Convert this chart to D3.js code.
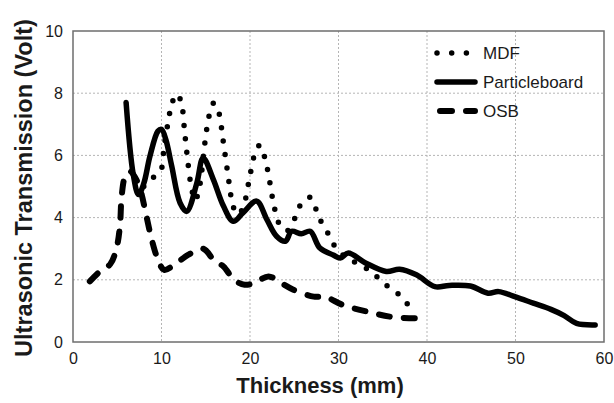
<!DOCTYPE html>
<html>
<head>
<meta charset="utf-8">
<script src="https://cdn.jsdelivr.net/npm/d3@7"></script>
<style>
  body { margin: 0; background: #fff; }
  text { font-family: "Liberation Sans", Arial, sans-serif; fill: #1a1a1a; }
</style>
</head>
<body>
<div id="chart"></div>
<script>
// series data (thickness in mm, transmission in volts)
var mdfX = [8.0, 9.1, 9.9, 10.3, 10.8, 11.2, 11.8, 12.3, 12.6, 12.9, 13.3, 13.8, 14.3, 14.9, 15.4, 15.9, 16.5, 16.9, 17.3, 17.7, 18.1, 18.7, 19.3, 19.9, 20.5, 21.1, 21.7, 22.2, 22.7, 23.3, 24.2, 25.1, 25.7, 26.8, 27.5, 28.1, 28.9, 29.6, 30.5, 32.0, 33.4, 34.6, 35.7, 37.0, 38.0];
var mdfY = [5.0, 5.3, 5.5, 6.3, 7.15, 7.7, 7.97, 7.6, 6.8, 6.0, 5.1, 4.55, 5.0, 6.4, 7.3, 7.68, 7.35, 6.6, 5.8, 5.0, 4.35, 4.1, 4.4, 5.2, 6.0, 6.33, 5.9, 5.2, 4.4, 3.8, 3.58, 4.0, 4.4, 4.65, 4.24, 3.83, 3.45, 3.07, 2.8, 2.54, 2.32, 2.03, 1.76, 1.49, 1.14];

var pbX = [6.0, 6.8, 7.4, 8.0, 8.7, 9.6, 10.0, 10.5, 11.15, 12.1, 12.85, 14.0, 14.7, 15.85, 17.0, 18.1, 19.2, 20.75, 21.9, 23.0, 24.0, 24.7, 25.8, 26.8, 27.9, 29.4, 30.2, 31.1, 33.0, 35.4, 36.9, 38.8, 40.9, 42.5, 44.9, 46.9, 48.1, 50.0, 52.0, 54.0, 55.5, 56.9, 59.0];
var pbY = [7.7, 5.4, 4.74, 5.1, 5.98, 6.78, 6.84, 6.5, 5.66, 4.47, 4.2, 5.12, 5.92, 5.23, 4.37, 3.88, 4.15, 4.53, 3.94, 3.4, 3.24, 3.56, 3.48, 3.56, 3.02, 2.8, 2.7, 2.86, 2.55, 2.27, 2.34, 2.16, 1.78, 1.82, 1.8, 1.57, 1.62, 1.45, 1.25, 1.05, 0.85, 0.6, 0.55];

var osbX = [1.9, 3.05, 4.2, 4.9, 5.3, 5.5, 5.9, 6.45, 7.0, 7.6, 8.3, 8.9, 9.6, 10.3, 11.7, 13.0, 14.7, 16.0, 17.0, 18.2, 19.4, 20.5, 22.1, 23.5, 24.9, 27.2, 28.5, 30.5, 33.2, 36.2, 40.0];
var osbY = [1.95, 2.27, 2.5, 3.0, 3.72, 4.69, 5.33, 5.49, 5.3, 4.9, 4.04, 3.29, 2.65, 2.32, 2.54, 2.8, 3.0, 2.6, 2.43, 2.0, 1.84, 1.9, 2.11, 1.9, 1.68, 1.46, 1.45, 1.19, 0.98, 0.8, 0.76];

var seriesNames = ["MDF", "Particleboard", "OSB"];
var xTicks = [0, 10, 20, 30, 40, 50, 60];
var yTicks = [0, 2, 4, 6, 8, 10];

var W = 614, H = 403;
var margin = {top: 31, right: 10, bottom: 61, left: 73};
var width = 604 - margin.left;
var height = 342 - margin.top;

var svg = d3.select("#chart").append("svg")
    .attr("width", W)
    .attr("height", H);

var g = svg.append("g")
    .attr("transform", "translate(" + margin.left + "," + margin.top + ")");

var x = d3.scaleLinear().domain([0, 60]).range([0, width]);
var y = d3.scaleLinear().domain([0, 10]).range([height, 0]);

// grid
g.append("g").selectAll("line")
    .data(xTicks.slice(1, -1))
    .enter().append("line")
    .attr("x1", function(d) { return x(d); })
    .attr("x2", function(d) { return x(d); })
    .attr("y1", 0).attr("y2", height)
    .style("stroke", "#b5b5b5").style("stroke-width", 1)
    .style("stroke-dasharray", "2,2");

g.append("g").selectAll("line")
    .data(yTicks.slice(1, -1))
    .enter().append("line")
    .attr("y1", function(d) { return y(d); })
    .attr("y2", function(d) { return y(d); })
    .attr("x1", 0).attr("x2", width)
    .style("stroke", "#b5b5b5").style("stroke-width", 1)
    .style("stroke-dasharray", "2,2");

// axes (labels only, frame drawn below)
var xAxis = g.append("g")
    .attr("transform", "translate(0," + height + ")")
    .call(d3.axisBottom(x).tickValues(xTicks).tickSize(0).tickPadding(11));
var yAxis = g.append("g")
    .call(d3.axisLeft(y).tickValues(yTicks).tickSize(0).tickPadding(10));
[xAxis, yAxis].forEach(function(a) {
    a.select(".domain").remove();
    a.selectAll("text")
        .style("font-family", "'Liberation Sans', Arial, sans-serif")
        .style("font-size", "16px")
        .style("fill", "#1a1a1a");
});

// lines
var line = d3.line()
    .x(function(d) { return x(d[0]); })
    .y(function(d) { return y(d[1]); })
    .curve(d3.curveCatmullRom.alpha(0.5));

var styles = {
    "MDF": {w: 5.5, dash: "0,13.5"},
    "Particleboard": {w: 5.5, dash: null},
    "OSB": {w: 6, dash: "11,14"}
};

var series = [
    {name: "OSB", pts: d3.zip(osbX, osbY)},
    {name: "MDF", pts: d3.zip(mdfX, mdfY)},
    {name: "Particleboard", pts: d3.zip(pbX, pbY)}
];

g.selectAll(".series")
    .data(series)
    .enter().append("path")
    .attr("class", "series")
    .attr("d", function(d) { return line(d.pts); })
    .style("fill", "none")
    .style("stroke", "#000")
    .style("stroke-linecap", "round")
    .style("stroke-linejoin", "round")
    .style("stroke-width", function(d) { return styles[d.name].w; })
    .style("stroke-dasharray", function(d) { return styles[d.name].dash; });

// frame
g.append("rect")
    .attr("width", width).attr("height", height)
    .style("fill", "none").style("stroke", "#6e6e6e").style("stroke-width", 1.5);

// legend
var legend = svg.append("g").attr("transform", "translate(437,53)");
var leg = legend.selectAll("g")
    .data(seriesNames)
    .enter().append("g")
    .attr("transform", function(d, i) { return "translate(0," + (i * 29) + ")"; });

leg.append("line")
    .attr("x1", function(d) { return d === "OSB" ? 3 : 0; })
    .attr("x2", function(d) { return d === "MDF" ? 30 : 38; })
    .attr("y1", 0).attr("y2", 0)
    .style("stroke", "#000")
    .style("stroke-linecap", "round")
    .style("stroke-width", function(d) { return styles[d].w; })
    .style("stroke-dasharray", function(d) {
        return d === "MDF" ? "0,14.7" : (d === "OSB" ? "12,14" : null);
    });

leg.append("text")
    .attr("x", 46)
    .attr("y", 0)
    .attr("dy", "0.35em")
    .style("font-size", "17px")
    .text(function(d) { return d; });

// axis titles
svg.append("text")
    .attr("x", 320).attr("y", 385)
    .attr("dy", "0.35em")
    .attr("text-anchor", "middle")
    .style("font-size", "22px").style("font-weight", "bold")
    .text("Thickness (mm)");

svg.append("text")
    .attr("transform", "translate(24,188) rotate(-90)")
    .attr("dy", "0.35em")
    .attr("text-anchor", "middle")
    .style("font-size", "23.5px").style("font-weight", "bold")
    .text("Ultrasonic Transmission (Volt)");
</script>
</body>
</html>
